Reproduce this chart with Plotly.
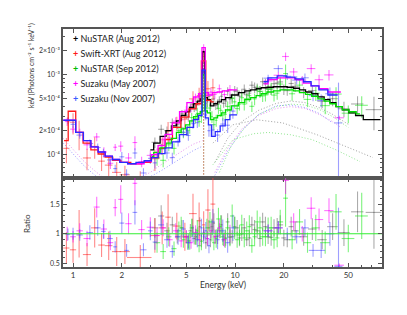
import plotly.graph_objects as go

# ---------------- data ----------------
# NuSTAR (Aug 2012) - black
nuA_E = [3.2, 3.5, 3.8, 4.1, 4.4, 4.7, 5.0, 5.3, 5.6, 5.9, 6.2, 6.4, 6.6, 6.9, 7.2, 7.6, 8.0, 8.5, 9.0, 9.6,
         10.3, 11.0, 11.8, 12.7, 13.7, 14.8, 16.0, 17.4, 19.0, 21.0, 23.5, 26.5, 30.0, 34.5, 40.0, 47.0, 57.0, 72.0,
         5.15, 5.45, 5.75, 6.05, 6.75, 7.05, 7.4, 7.8, 8.25, 8.75, 9.3, 9.95, 10.65, 11.4, 12.25, 13.2, 14.25, 15.4,
         16.7, 18.2, 20.0, 22.2]
nuA_dE = [0.15, 0.15, 0.15, 0.15, 0.15, 0.15, 0.15, 0.15, 0.15, 0.15, 0.1, 0.1, 0.1, 0.15, 0.15, 0.2, 0.2, 0.25, 0.25, 0.3,
          0.35, 0.35, 0.4, 0.45, 0.5, 0.55, 0.6, 0.7, 0.8, 1.0, 1.2, 1.5, 1.8, 2.3, 3.0, 4.0, 5.0, 8.0,
          0.1, 0.1, 0.1, 0.1, 0.1, 0.1, 0.12, 0.15, 0.18, 0.2, 0.22, 0.25, 0.3, 0.32, 0.35, 0.4, 0.45, 0.5, 0.55, 0.6, 0.7, 0.8]
nuA_F = [1.43e-4, 2.08e-4, 2.0e-4, 2.53e-4, 2.38e-4, 3.25e-4, 3.13e-4, 3.94e-4, 3.86e-4, 4.6e-4, 4.4e-4, 1.94e-3, 4.42e-4,
         5.39e-4, 4.59e-4, 4.13e-4, 4.83e-4, 4.41e-4, 6.24e-4, 5.13e-4, 6.27e-4, 6.0e-4, 5.63e-4, 7.42e-4, 6.98e-4, 8.22e-4,
         6.65e-4, 7.76e-4, 8.17e-4, 6.35e-4, 7.19e-4, 6.08e-4, 6.37e-4, 4.68e-4, 5.04e-4, 3.77e-4, 4.32e-4, 3.67e-4,
         3.0e-4, 4.3e-4, 4.1e-4, 5.3e-4, 4.6e-4, 4.1e-4, 5.0e-4, 4.3e-4, 5.4e-4, 4.7e-4, 5.0e-4, 6.3e-4, 5.4e-4, 6.6e-4,
         5.9e-4, 7.0e-4, 6.2e-4, 7.8e-4, 6.6e-4, 7.9e-4, 6.6e-4, 7.8e-4]
nuA_R = [1.1, 1.3, 1.05, 1.15, 0.95, 1.1, 0.95, 1.05, 0.92, 1.0, 0.88, 1.02, 0.85, 1.1, 1.12, 0.95, 1.05, 0.9, 1.2, 0.95,
         1.1, 1.0, 0.9, 1.15, 1.05, 1.2, 0.95, 1.1, 1.15, 0.9, 1.05, 0.95, 1.08, 0.9, 1.12, 1.02, 1.37, 1.36,
         0.88, 1.1, 0.95, 1.12, 0.92, 0.9, 1.18, 0.96, 1.15, 0.93, 0.94, 1.12, 0.93, 1.1, 0.93, 1.07, 0.92, 1.12, 0.94,
         1.1, 0.93, 1.12]
nuA_err = [0.15, 0.14, 0.13, 0.12, 0.12, 0.12, 0.11, 0.11, 0.11, 0.11, 0.12, 0.1, 0.12, 0.12, 0.12, 0.12, 0.12, 0.12, 0.12, 0.12,
           0.12, 0.12, 0.12, 0.12, 0.12, 0.13, 0.13, 0.13, 0.14, 0.14, 0.15, 0.16, 0.17, 0.18, 0.2, 0.22, 0.25, 0.45,
           0.14, 0.14, 0.14, 0.14, 0.14, 0.14, 0.14, 0.14, 0.14, 0.14, 0.14, 0.15, 0.15, 0.15, 0.15, 0.15, 0.15, 0.15,
           0.15, 0.15, 0.15, 0.15]
nuA_mE = [3.0, 3.3, 3.6, 3.9, 4.2, 4.5, 4.8, 5.1, 5.4, 5.7, 6.0, 6.2, 6.4, 6.6, 6.9, 7.2, 7.6, 8.0, 8.5, 9.0, 10.0, 11.0,
          12.0, 13.0, 14.0, 15.0, 16.5, 18.0, 20.0, 22.0, 24.0, 26.0, 28.5, 31.0, 34.0, 37.0, 40.0, 44.0, 48.0, 53.0, 58.0, 66.0, 79.0]
nuA_mF = [1.15e-4, 1.4e-4, 1.7e-4, 2.0e-4, 2.3e-4, 2.65e-4, 3.1e-4, 3.45e-4, 3.9e-4, 4.35e-4, 4.7e-4, 5.0e-4, 1.95e-3, 5.2e-4,
          4.9e-4, 4.1e-4, 4.35e-4, 4.6e-4, 4.9e-4, 5.2e-4, 5.6e-4, 6.0e-4, 6.3e-4, 6.5e-4, 6.7e-4, 6.9e-4, 7.0e-4, 7.1e-4,
          7.1e-4, 7.0e-4, 6.8e-4, 6.5e-4, 6.1e-4, 5.8e-4, 5.3e-4, 4.9e-4, 4.5e-4, 4.0e-4, 3.65e-4, 3.35e-4, 3.1e-4, 2.75e-4, 2.75e-4]

# Swift-XRT (Aug 2012) - red
xrt_E = [0.91, 1.0, 1.09, 1.22, 1.36, 1.5, 1.66, 1.86, 2.09, 2.6, 3.2, 3.55, 3.86, 4.37, 4.9, 5.5, 6.0, 6.4, 6.8, 7.3]
xrt_dE = [0.04, 0.045, 0.045, 0.07, 0.07, 0.07, 0.09, 0.12, 0.15, 0.45, 0.2, 0.18, 0.15, 0.25, 0.25, 0.3, 0.2, 0.15, 0.25, 0.25]
xrt_F = [1.2e-4, 2.55e-4, 1.9e-4, 9.1e-5, 1.27e-4, 8.3e-5, 7.4e-5, 6.0e-5, 5.6e-5, 4.6e-5, 8.9e-5, 1.32e-4, 1.98e-4,
         2.49e-4, 2.8e-4, 5.0e-4, 5.5e-4, 1.7e-3, 6.7e-4, 6.9e-4]
xrt_R = [0.76, 0.73, 1.0, 0.65, 1.1, 0.81, 0.8, 0.7, 0.7, 0.6, 0.97, 1.1, 1.28, 1.13, 0.95, 1.34, 1.22, 1.15, 1.4, 1.5]
xrt_err = [0.35, 0.3, 0.4, 0.3, 0.3, 0.25, 0.3, 0.35, 0.3, 0.35, 0.3, 0.25, 0.3, 0.2, 0.25, 0.25, 0.25, 0.2, 0.25, 0.3]
xrt_mE = [0.88, 0.99, 1.09, 1.22, 1.36, 1.5, 1.66, 1.86, 2.09, 2.47, 2.85, 3.2, 3.55, 3.86, 4.37, 4.9, 5.5, 6.0, 6.4, 6.8, 7.4]
xrt_mF = [1.5e-4, 3.5e-4, 1.9e-4, 1.4e-4, 1.15e-4, 1.02e-4, 9.3e-5, 8.5e-5, 8.0e-5, 7.7e-5, 8.0e-5, 9.2e-5, 1.2e-4,
          1.55e-4, 2.2e-4, 2.95e-4, 3.75e-4, 4.35e-4, 1.5e-3, 4.8e-4, 4.6e-4]

# NuSTAR (Sep 2012) - green
nuS_E = [3.3, 3.6, 3.9, 4.2, 4.5, 4.8, 5.1, 5.4, 5.7, 6.0, 6.4, 6.7, 7.0, 7.4, 7.9, 8.4, 9.0, 9.6, 10.3, 11.0, 11.8,
         12.7, 13.7, 14.8, 16.0, 17.4, 19.0, 20.5, 22.5, 25.0, 28.0, 31.5, 36.0, 42.0, 50.0, 60.5,
         4.65, 5.25, 5.85, 6.2, 7.2, 7.65, 8.15, 8.7, 9.3, 9.95, 10.65, 11.4, 12.25, 13.2, 14.25, 15.4, 16.7, 18.2]
nuS_dE = [0.15, 0.15, 0.15, 0.15, 0.15, 0.15, 0.15, 0.15, 0.15, 0.15, 0.12, 0.15, 0.15, 0.2, 0.25, 0.25, 0.3, 0.3, 0.35,
          0.35, 0.4, 0.45, 0.5, 0.55, 0.6, 0.7, 0.8, 0.7, 1.0, 1.3, 1.5, 1.8, 2.5, 3.5, 4.5, 5.5,
          0.1, 0.1, 0.1, 0.1, 0.1, 0.15, 0.18, 0.2, 0.22, 0.25, 0.3, 0.32, 0.35, 0.4, 0.45, 0.5, 0.55, 0.6]
nuS_F = [9.1e-5, 8.5e-5, 1.33e-4, 1.2e-4, 2.0e-4, 1.89e-4, 2.01e-4, 2.92e-4, 2.85e-4, 2.6e-4, 1.0e-3, 3.85e-4, 3.84e-4,
         2.38e-4, 3.81e-4, 3.14e-4, 4.02e-4, 5.07e-4, 3.78e-4, 5.18e-4, 5.04e-4, 4.04e-4, 6.48e-4, 5.46e-4, 6.6e-4,
         5.58e-4, 7.68e-4, 1.04e-3, 5.8e-4, 7.44e-4, 4.93e-4, 5.89e-4, 4.12e-4, 5.75e-4, 3.31e-4, 4.16e-4,
         2.2e-4, 2.2e-4, 3.3e-4, 3.0e-4, 3.0e-4, 2.7e-4, 3.6e-4, 3.2e-4, 3.6e-4, 4.6e-4, 4.3e-4, 4.3e-4, 5.5e-4, 5.0e-4,
         6.2e-4, 5.6e-4, 6.8e-4, 5.9e-4]
nuS_R = [0.85, 0.7, 0.95, 0.75, 1.05, 0.9, 0.85, 1.1, 0.95, 0.8, 1.0, 1.1, 1.2, 0.85, 1.25, 0.95, 1.1, 1.3, 0.9, 1.15,
         1.05, 0.8, 1.2, 0.95, 1.1, 0.9, 1.2, 1.6, 0.9, 1.2, 0.85, 1.1, 0.85, 1.37, 0.92, 1.3,
         1.1, 0.88, 1.05, 0.87, 1.05, 0.92, 1.12, 0.92, 0.95, 1.1, 0.98, 0.93, 1.12, 0.95, 1.1, 0.95, 1.1, 0.93]
nuS_err = [0.2, 0.18, 0.17, 0.16, 0.15, 0.15, 0.14, 0.14, 0.14, 0.14, 0.12, 0.14, 0.14, 0.15, 0.15, 0.15, 0.15, 0.15, 0.15,
           0.15, 0.15, 0.15, 0.16, 0.16, 0.16, 0.17, 0.17, 0.3, 0.18, 0.18, 0.2, 0.2, 0.22, 0.22, 0.25, 0.3,
           0.17, 0.17, 0.17, 0.17, 0.17, 0.17, 0.17, 0.17, 0.17, 0.17, 0.17, 0.17, 0.17, 0.17, 0.17, 0.17, 0.17, 0.17]
nuS_mE = [3.0, 3.3, 3.6, 3.9, 4.2, 4.5, 4.8, 5.1, 5.4, 5.7, 6.0, 6.2, 6.4, 6.6, 6.9, 7.2, 7.6, 8.0, 8.5, 9.0, 10.0, 11.0,
          12.0, 13.0, 14.0, 15.0, 16.5, 18.0, 20.0, 22.0, 24.0, 26.0, 28.5, 31.0, 34.0, 37.0, 40.0, 44.0, 48.0, 53.0, 59.0]
nuS_mF = [9.5e-5, 1.07e-4, 1.22e-4, 1.4e-4, 1.6e-4, 1.9e-4, 2.1e-4, 2.37e-4, 2.65e-4, 3.0e-4, 3.25e-4, 3.45e-4, 1.0e-3,
          3.55e-4, 3.35e-4, 2.75e-4, 2.9e-4, 3.1e-4, 3.35e-4, 3.65e-4, 4.1e-4, 4.5e-4, 4.9e-4, 5.2e-4, 5.5e-4, 5.8e-4,
          6.1e-4, 6.3e-4, 6.5e-4, 6.5e-4, 6.3e-4, 6.0e-4, 5.7e-4, 5.4e-4, 5.0e-4, 4.7e-4, 4.35e-4, 4.0e-4, 3.65e-4, 3.45e-4, 3.25e-4]

# Suzaku (May 2007) - magenta (XIS + HXD)
szM_E = [0.92, 1.0, 1.1, 1.22, 1.4, 1.55, 1.7, 1.82, 1.97, 2.2, 2.41, 2.65, 3.0, 3.3, 3.6, 3.95, 4.3, 4.65, 5.0, 5.35,
         5.7, 6.05, 6.4, 6.75, 7.1, 7.5, 8.0, 8.6, 9.3, 16.0, 18.5, 20.5, 23.0, 26.0, 29.5, 33.0, 38.0, 44.0]
szM_dE = [0.03, 0.04, 0.05, 0.06, 0.06, 0.07, 0.07, 0.05, 0.07, 0.1, 0.08, 0.12, 0.15, 0.15, 0.15, 0.17, 0.17, 0.17, 0.17,
          0.17, 0.17, 0.15, 0.1, 0.15, 0.18, 0.2, 0.25, 0.3, 0.35, 1.0, 1.2, 1.0, 1.3, 1.5, 1.8, 2.0, 2.5, 3.0]
szM_F = [2.6e-4, 2.09e-4, 1.89e-4, 1.33e-4, 1.67e-4, 1.08e-4, 7.8e-5, 1.24e-4, 1.28e-4, 9.1e-5, 1.42e-4, 8.2e-5, 9.8e-5,
         1.05e-4, 1.54e-4, 1.62e-4, 2.63e-4, 2.73e-4, 3.61e-4, 3.83e-4, 5.2e-4, 5.13e-4, 2.2e-3, 5.52e-4, 6.09e-4,
         5.7e-4, 6.71e-4, 5.67e-4, 6.5e-4, 8.4e-4, 9.9e-4, 1.7e-3, 1.09e-3, 8.6e-4, 1.2e-3, 8.7e-4, 1.0e-3, 2.9e-4]
szM_R = [1.0, 0.95, 1.05, 0.92, 1.45, 1.08, 0.85, 1.44, 1.58, 1.17, 1.85, 1.07, 1.11, 0.97, 1.1, 0.9, 1.05, 0.88, 0.95,
         0.85, 1.02, 0.9, 1.0, 0.92, 1.05, 0.95, 1.1, 0.9, 1.0, 1.05, 1.1, 1.9, 1.2, 1.0, 1.43, 1.24, 1.39, 0.47]
szM_err = [0.12, 0.1, 0.12, 0.14, 0.12, 0.15, 0.15, 0.1, 0.15, 0.15, 0.2, 0.15, 0.15, 0.14, 0.13, 0.13, 0.12, 0.12, 0.12,
           0.12, 0.12, 0.12, 0.1, 0.12, 0.12, 0.13, 0.13, 0.14, 0.15, 0.1, 0.1, 0.12, 0.12, 0.13, 0.13, 0.15, 0.15, 0.06]
szM_mE = [0.87, 0.98, 1.1, 1.22, 1.36, 1.5, 1.66, 1.84, 2.05, 2.3, 2.6, 2.9, 3.2, 3.5, 3.9, 4.3, 4.8, 5.3, 5.8, 6.1, 6.4,
          6.7, 7.0, 7.5, 8.0, 8.7, 9.5, 10.3]
szM_mF = [2.7e-4, 2.7e-4, 1.9e-4, 1.5e-4, 1.25e-4, 1.08e-4, 9.6e-5, 8.7e-5, 8.0e-5, 7.7e-5, 7.7e-5, 8.2e-5, 1.0e-4, 1.3e-4,
          1.8e-4, 2.5e-4, 3.45e-4, 4.5e-4, 5.3e-4, 5.8e-4, 2.2e-3, 6.0e-4, 5.6e-4, 6.0e-4, 6.1e-4, 6.3e-4, 6.5e-4, 6.5e-4]
szM_hE = [15.0, 17.0, 19.5, 22.0, 25.0, 28.0, 31.0, 35.0, 40.0, 45.0]
szM_hF = [7.7e-4, 8.7e-4, 9.2e-4, 9.2e-4, 8.7e-4, 7.9e-4, 7.3e-4, 6.7e-4, 6.1e-4, 6.1e-4]

# Suzaku (Nov 2007) - blue (XIS + HXD)
szN_E = [0.93, 1.0, 1.1, 1.27, 1.42, 1.54, 1.69, 1.82, 2.0, 2.14, 2.41, 2.72, 3.0, 3.2, 3.5, 3.8, 4.1, 4.45, 4.8, 5.15,
         5.5, 5.85, 6.2, 6.4, 6.6, 6.9, 7.3, 7.8, 8.4, 9.0, 9.7, 16.0, 18.5, 21.0, 24.0, 27.0, 30.3, 34.0, 38.5, 43.5]
szN_dE = [0.03, 0.035, 0.05, 0.06, 0.06, 0.05, 0.07, 0.05, 0.07, 0.07, 0.08, 0.12, 0.1, 0.1, 0.15, 0.15, 0.15, 0.17, 0.17,
          0.17, 0.17, 0.17, 0.12, 0.08, 0.12, 0.15, 0.2, 0.25, 0.3, 0.3, 0.35, 1.0, 1.2, 1.2, 1.5, 1.5, 1.8, 2.0, 2.5, 2.5]
szN_F = [2.67e-4, 2.4e-4, 1.76e-4, 1.38e-4, 1.23e-4, 1.06e-4, 8.6e-5, 6.7e-5, 9.4e-5, 5.7e-5, 1.05e-4, 5.9e-5, 9.0e-5,
         7.9e-5, 1.18e-4, 1.05e-4, 9.2e-5, 1.47e-4, 1.92e-4, 1.74e-4, 2.45e-4, 2.52e-4, 3.52e-4, 1.09e-3, 3.15e-4,
         2.0e-4, 2.04e-4, 1.76e-4, 2.42e-4, 2.34e-4, 3.52e-4, 9.1e-4, 1.2e-3, 9.6e-4, 8.6e-4, 9.2e-4, 5.5e-4, 4.8e-4,
         5.8e-4, 2.5e-4]
szN_R = [0.99, 1.0, 0.98, 1.02, 1.1, 1.04, 0.92, 0.78, 1.18, 0.72, 1.36, 0.73, 1.05, 0.86, 1.15, 0.9, 0.7, 0.95, 1.08,
         0.85, 1.0, 0.9, 1.1, 0.95, 1.05, 0.8, 1.2, 0.9, 1.05, 0.85, 1.1, 1.05, 1.1, 1.0, 0.95, 1.1, 0.72, 0.72, 1.0, 0.45]
szN_err = [0.1, 0.1, 0.1, 0.12, 0.12, 0.12, 0.14, 0.12, 0.15, 0.15, 0.15, 0.15, 0.15, 0.15, 0.15, 0.15, 0.15, 0.14, 0.14,
           0.14, 0.14, 0.14, 0.14, 0.12, 0.14, 0.16, 0.18, 0.18, 0.18, 0.2, 0.2, 0.1, 0.1, 0.1, 0.12, 0.13, 0.15, 0.18,
           0.2, 2.2]
szN_mE = [0.87, 0.98, 1.1, 1.22, 1.36, 1.5, 1.66, 1.84, 2.05, 2.3, 2.6, 2.9, 3.2, 3.5, 3.9, 4.3, 4.8, 5.3, 5.8, 6.1, 6.4,
          6.7, 7.0, 7.3, 7.8, 8.4, 9.0, 9.6, 10.3]
szN_mF = [2.7e-4, 2.7e-4, 1.9e-4, 1.5e-4, 1.25e-4, 1.08e-4, 9.6e-5, 8.7e-5, 8.0e-5, 7.7e-5, 8.0e-5, 8.4e-5, 9.2e-5, 1.03e-4,
          1.22e-4, 1.45e-4, 1.78e-4, 2.2e-4, 2.75e-4, 3.1e-4, 1.15e-3, 2.9e-4, 2.37e-4, 1.7e-4, 1.95e-4, 2.3e-4, 2.75e-4,
          3.15e-4, 3.15e-4]
szN_hE = [15.0, 17.0, 19.5, 22.0, 25.0, 28.0, 31.0, 35.0, 40.0, 43.0]
szN_hF = [8.2e-4, 9.2e-4, 9.7e-4, 9.4e-4, 8.9e-4, 8.2e-4, 7.3e-4, 6.5e-4, 5.6e-4, 5.6e-4]

# model components (dotted)
comp_gray_refl_E = [7.3, 9.7, 13.6, 19.7, 32.0, 51.0, 71.0]
comp_gray_refl_F = [1.4e-4, 2.37e-4, 2.74e-4, 2.5e-4, 1.78e-4, 1.22e-4, 9.2e-5]
comp_green_refl_E = [7.3, 9.7, 13.0, 16.0, 22.0, 30.0, 42.0, 59.0]
comp_green_refl_F = [7.5e-5, 1.54e-4, 1.83e-4, 1.9e-4, 1.78e-4, 1.54e-4, 1.15e-4, 8.2e-5]
comp_gray_pl_E = [7.5, 9.0, 11.0, 14.0, 18.0, 22.0, 27.0, 33.0, 40.0, 50.0]
comp_gray_pl_F = [8e-5, 1.6e-4, 2.6e-4, 3.6e-4, 4.4e-4, 4.7e-4, 4.5e-4, 3.9e-4, 3.2e-4, 2.4e-4]
comp_green_pl_E = [8.0, 9.5, 11.5, 14.0, 18.0, 22.0, 27.0, 33.0, 40.0, 50.0]
comp_green_pl_F = [6e-5, 1.3e-4, 2.2e-4, 3.2e-4, 4.0e-4, 4.3e-4, 4.2e-4, 3.7e-4, 3.0e-4, 2.2e-4]
comp_mag_pl_E = [7.5, 9.0, 11.0, 14.0, 18.0, 22.0, 27.0, 33.0, 40.0, 45.0]
comp_mag_pl_F = [6e-5, 1.2e-4, 2.1e-4, 3.1e-4, 3.8e-4, 4.0e-4, 3.8e-4, 3.2e-4, 2.6e-4, 2.2e-4]
comp_blue_pl_E = [7.5, 9.0, 11.0, 14.0, 18.0, 22.0, 27.0, 33.0, 40.0]
comp_blue_pl_F = [5.5e-5, 1.1e-4, 2.0e-4, 3.2e-4, 4.1e-4, 4.2e-4, 3.9e-4, 3.3e-4, 2.5e-4]
comp_soft_E = [0.87, 0.95, 1.05, 1.15, 1.3, 1.45, 1.6]
comp_soft_mag_F = [1.6e-4, 1.3e-4, 1.05e-4, 8.5e-5, 6.8e-5, 5.6e-5, 4.8e-5]
comp_soft_blue_F = [1.4e-4, 1.15e-4, 9.2e-5, 7.5e-5, 6.0e-5, 5.0e-5, 4.3e-5]
comp_mid_E = [2.5, 3.0, 3.5, 4.0, 4.5, 5.0, 5.5, 6.0, 6.3]
comp_mid_mag_F = [5e-5, 6e-5, 7.5e-5, 9e-5, 1.05e-4, 1.2e-4, 1.35e-4, 1.45e-4, 1.5e-4]
comp_mid_blue_F = [4.5e-5, 5.3e-5, 6.3e-5, 7.5e-5, 8.7e-5, 1.0e-4, 1.12e-4, 1.22e-4, 1.28e-4]
fe_E = 6.4
fe_tops = {"black": 1.5e-3, "green": 7e-4, "red": 1.4e-3}

legend_names = ["NuSTAR (Aug 2012)", "Swift-XRT (Aug 2012)", "NuSTAR (Sep 2012)", "Suzaku (May 2007)", "Suzaku (Nov 2007)"]

x_tick_vals = [1, 2, 5, 10, 20, 50]
x_tick_text = ["1", "2", "5", "10", "20", "50"]
x_minor_vals = [3, 4, 6, 7, 8, 9, 30, 40, 60, 70, 80]
y_tick_vals = [1e-4, 2e-4, 5e-4, 1e-3, 2e-3]
y_tick_text = ["10⁻⁴", "2×10⁻⁴", "5×10⁻⁴", "10⁻³", "2×10⁻³"]
y_minor_vals = [6e-5, 7e-5, 8e-5, 9e-5, 3e-4, 4e-4, 6e-4, 7e-4, 8e-4, 9e-4, 3e-3]
r_tick_vals = [0.5, 1.0, 1.5]
r_tick_text = ["0.5", "1", "1.5"]
r_minor_vals = [0.6, 0.7, 0.8, 0.9, 1.1, 1.2, 1.3, 1.4, 1.6, 1.7, 1.8, 1.9]

# ---------------- styles ----------------
series = [
    ("black", nuA_E, nuA_dE, nuA_F, nuA_R, nuA_err, "rgba(90,90,90,0.5)", "#000000"),
    ("red", xrt_E, xrt_dE, xrt_F, xrt_R, xrt_err, "rgba(255,60,60,0.6)", "#ff1a1a"),
    ("green", nuS_E, nuS_dE, nuS_F, nuS_R, nuS_err, "rgba(40,235,40,0.6)", "#00dd00"),
    ("magenta", szM_E, szM_dE, szM_F, szM_R, szM_err, "rgba(255,0,255,0.55)", "#ff00ff"),
    ("blue", szN_E, szN_dE, szN_F, szN_R, szN_err, "rgba(80,80,255,0.55)", "#2a2aff"),
]
model_lines = [
    (nuA_mE, nuA_mF, "#000000"),
    (xrt_mE, xrt_mF, "#ff1a1a"),
    (nuS_mE, nuS_mF, "#00dd00"),
    (szM_mE, szM_mF, "#ff00ff"),
    (szM_hE, szM_hF, "#ff00ff"),
    (szN_mE, szN_mF, "#2a2aff"),
    (szN_hE, szN_hF, "#2a2aff"),
]
dotted = [
    (comp_gray_refl_E, comp_gray_refl_F, "rgba(120,120,120,0.7)"),
    (comp_green_refl_E, comp_green_refl_F, "rgba(100,220,100,0.7)"),
    (comp_gray_pl_E, comp_gray_pl_F, "rgba(120,120,120,0.7)"),
    (comp_green_pl_E, comp_green_pl_F, "rgba(100,220,100,0.7)"),
    (comp_mag_pl_E, comp_mag_pl_F, "rgba(220,100,230,0.7)"),
    (comp_blue_pl_E, comp_blue_pl_F, "rgba(110,110,255,0.7)"),
    (comp_soft_E, comp_soft_mag_F, "rgba(220,100,230,0.7)"),
    (comp_soft_E, comp_soft_blue_F, "rgba(110,110,255,0.7)"),
    (comp_mid_E, comp_mid_mag_F, "rgba(220,100,230,0.7)"),
    (comp_mid_E, comp_mid_blue_F, "rgba(110,110,255,0.7)"),
]
fe_colors = {"red": "rgba(255,60,60,0.85)", "black": "rgba(120,120,120,0.5)", "green": "rgba(80,210,80,0.7)"}
DOT = "1px,2px"

fig = go.Figure()

for (xs, ys, col) in dotted:
    fig.add_trace(go.Scatter(x=xs, y=ys, mode="lines", line=dict(color=col, width=1, dash=DOT),
                             xaxis="x", yaxis="y", showlegend=False, hoverinfo="skip"))
for name, top in fe_tops.items():
    fig.add_trace(go.Scatter(x=[fe_E, fe_E], y=[4e-5, top], mode="lines",
                             line=dict(color=fe_colors[name], width=1, dash=DOT),
                             xaxis="x", yaxis="y", showlegend=False, hoverinfo="skip"))

for (name, E, dE, F, R, err, dcol, mcol) in series:
    fe_plus = [f * e for f, e in zip(F, err)]
    fe_minus = [f * min(e, 0.97) for f, e in zip(F, err)]
    fig.add_trace(go.Scatter(
        x=E, y=F, mode="markers", marker=dict(size=1, color=dcol),
        error_x=dict(type="data", array=dE, color=dcol, thickness=1.1, width=0),
        error_y=dict(type="data", array=fe_plus, arrayminus=fe_minus, symmetric=False,
                     color=dcol, thickness=1.1, width=0),
        xaxis="x", yaxis="y", showlegend=False, hoverinfo="skip"))
    re = [r * e for r, e in zip(R, err)]
    fig.add_trace(go.Scatter(
        x=E, y=R, mode="markers", marker=dict(size=1, color=dcol),
        error_x=dict(type="data", array=dE, color=dcol, thickness=1.1, width=0),
        error_y=dict(type="data", array=re, color=dcol, thickness=1.1, width=0),
        xaxis="x2", yaxis="y2", showlegend=False, hoverinfo="skip"))

for (xs, ys, col) in model_lines:
    fig.add_trace(go.Scatter(x=xs, y=ys, mode="lines", line=dict(color=col, width=1.3, shape="hvh"),
                             xaxis="x", yaxis="y", showlegend=False, hoverinfo="skip"))

fig.add_trace(go.Scatter(x=[0.8, 90], y=[1, 1], mode="lines", line=dict(color="#33ee33", width=1.2),
                         xaxis="x2", yaxis="y2", showlegend=False, hoverinfo="skip"))

AX = "#555555"
minor_common = dict(ticks="inside", ticklen=2, tickwidth=1, tickcolor=AX, showgrid=False)
axis_common = dict(type="log", range=[-0.062, 1.907], showgrid=False, zeroline=False, showline=True,
                   linecolor=AX, linewidth=1.5, mirror="allticks", ticks="inside", ticklen=4,
                   tickwidth=1, tickcolor=AX, tickmode="array", tickvals=x_tick_vals, ticktext=x_tick_text,
                   minor=dict(minor_common, tickmode="array", tickvals=x_minor_vals))

fig.update_layout(
    width=399, height=307,
    margin=dict(l=55, r=25, t=21, b=48),
    paper_bgcolor="white", plot_bgcolor="white",
    font=dict(family="Lato, Open Sans, sans-serif", size=8, color="#333333"),
    showlegend=False,
    xaxis=dict(axis_common, domain=[0, 1], anchor="y", matches="x2", showticklabels=False),
    xaxis2=dict(axis_common, domain=[0, 1], anchor="y2", tickfont=dict(size=8)),
    yaxis=dict(type="log", domain=[0.374, 1], anchor="x", range=[-4.292, -2.425], showgrid=False,
               zeroline=False, showline=True, linecolor=AX, linewidth=1.5, mirror="allticks",
               ticks="inside", ticklen=4, tickwidth=1, tickcolor=AX, tickmode="array",
               tickvals=y_tick_vals, ticktext=y_tick_text, tickfont=dict(size=7),
               minor=dict(minor_common, tickmode="array", tickvals=y_minor_vals)),
    yaxis2=dict(domain=[0, 0.374], anchor="x2", range=[0.44, 1.94], showgrid=False, zeroline=False,
                showline=True, linecolor=AX, linewidth=1.5, mirror="allticks", ticks="inside",
                ticklen=4, tickwidth=1, tickcolor=AX, tickmode="array", tickvals=r_tick_vals,
                ticktext=r_tick_text, tickfont=dict(size=7),
                minor=dict(minor_common, tickmode="array", tickvals=r_minor_vals)),
)

legend_colors = ["#000000", "#ff1a1a", "#00bb00", "#ff00ff", "#3a5aff"]
legend_y = [0.959, 0.899, 0.836, 0.773, 0.710]
for name, col, yy in zip(legend_names, legend_colors, legend_y):
    fig.add_annotation(xref="paper", yref="paper", x=0.025, y=yy, xanchor="left", yanchor="middle",
                       showarrow=False, text=f"<span style='color:{col}'><b>+</b></span> {name}",
                       font=dict(size=9, color="#222222"))

fig.add_annotation(xref="paper", yref="paper", x=-0.097, y=0.845, xanchor="center", yanchor="middle",
                   textangle=-90, showarrow=False,
                   text="keV (Photons cm⁻² s⁻¹ keV⁻¹)",
                   font=dict(size=7, color="#333333"))
fig.add_annotation(xref="paper", yref="paper", x=-0.113, y=0.185, xanchor="center", yanchor="middle",
                   textangle=-90, showarrow=False, text="Ratio", font=dict(size=8, color="#333333"))
fig.add_annotation(xref="paper", yref="paper", x=0.5, y=-0.076, xanchor="center", yanchor="middle",
                   showarrow=False, text="Energy (keV)", font=dict(size=8.5, color="#333333"))

fig.write_html("out.html")
